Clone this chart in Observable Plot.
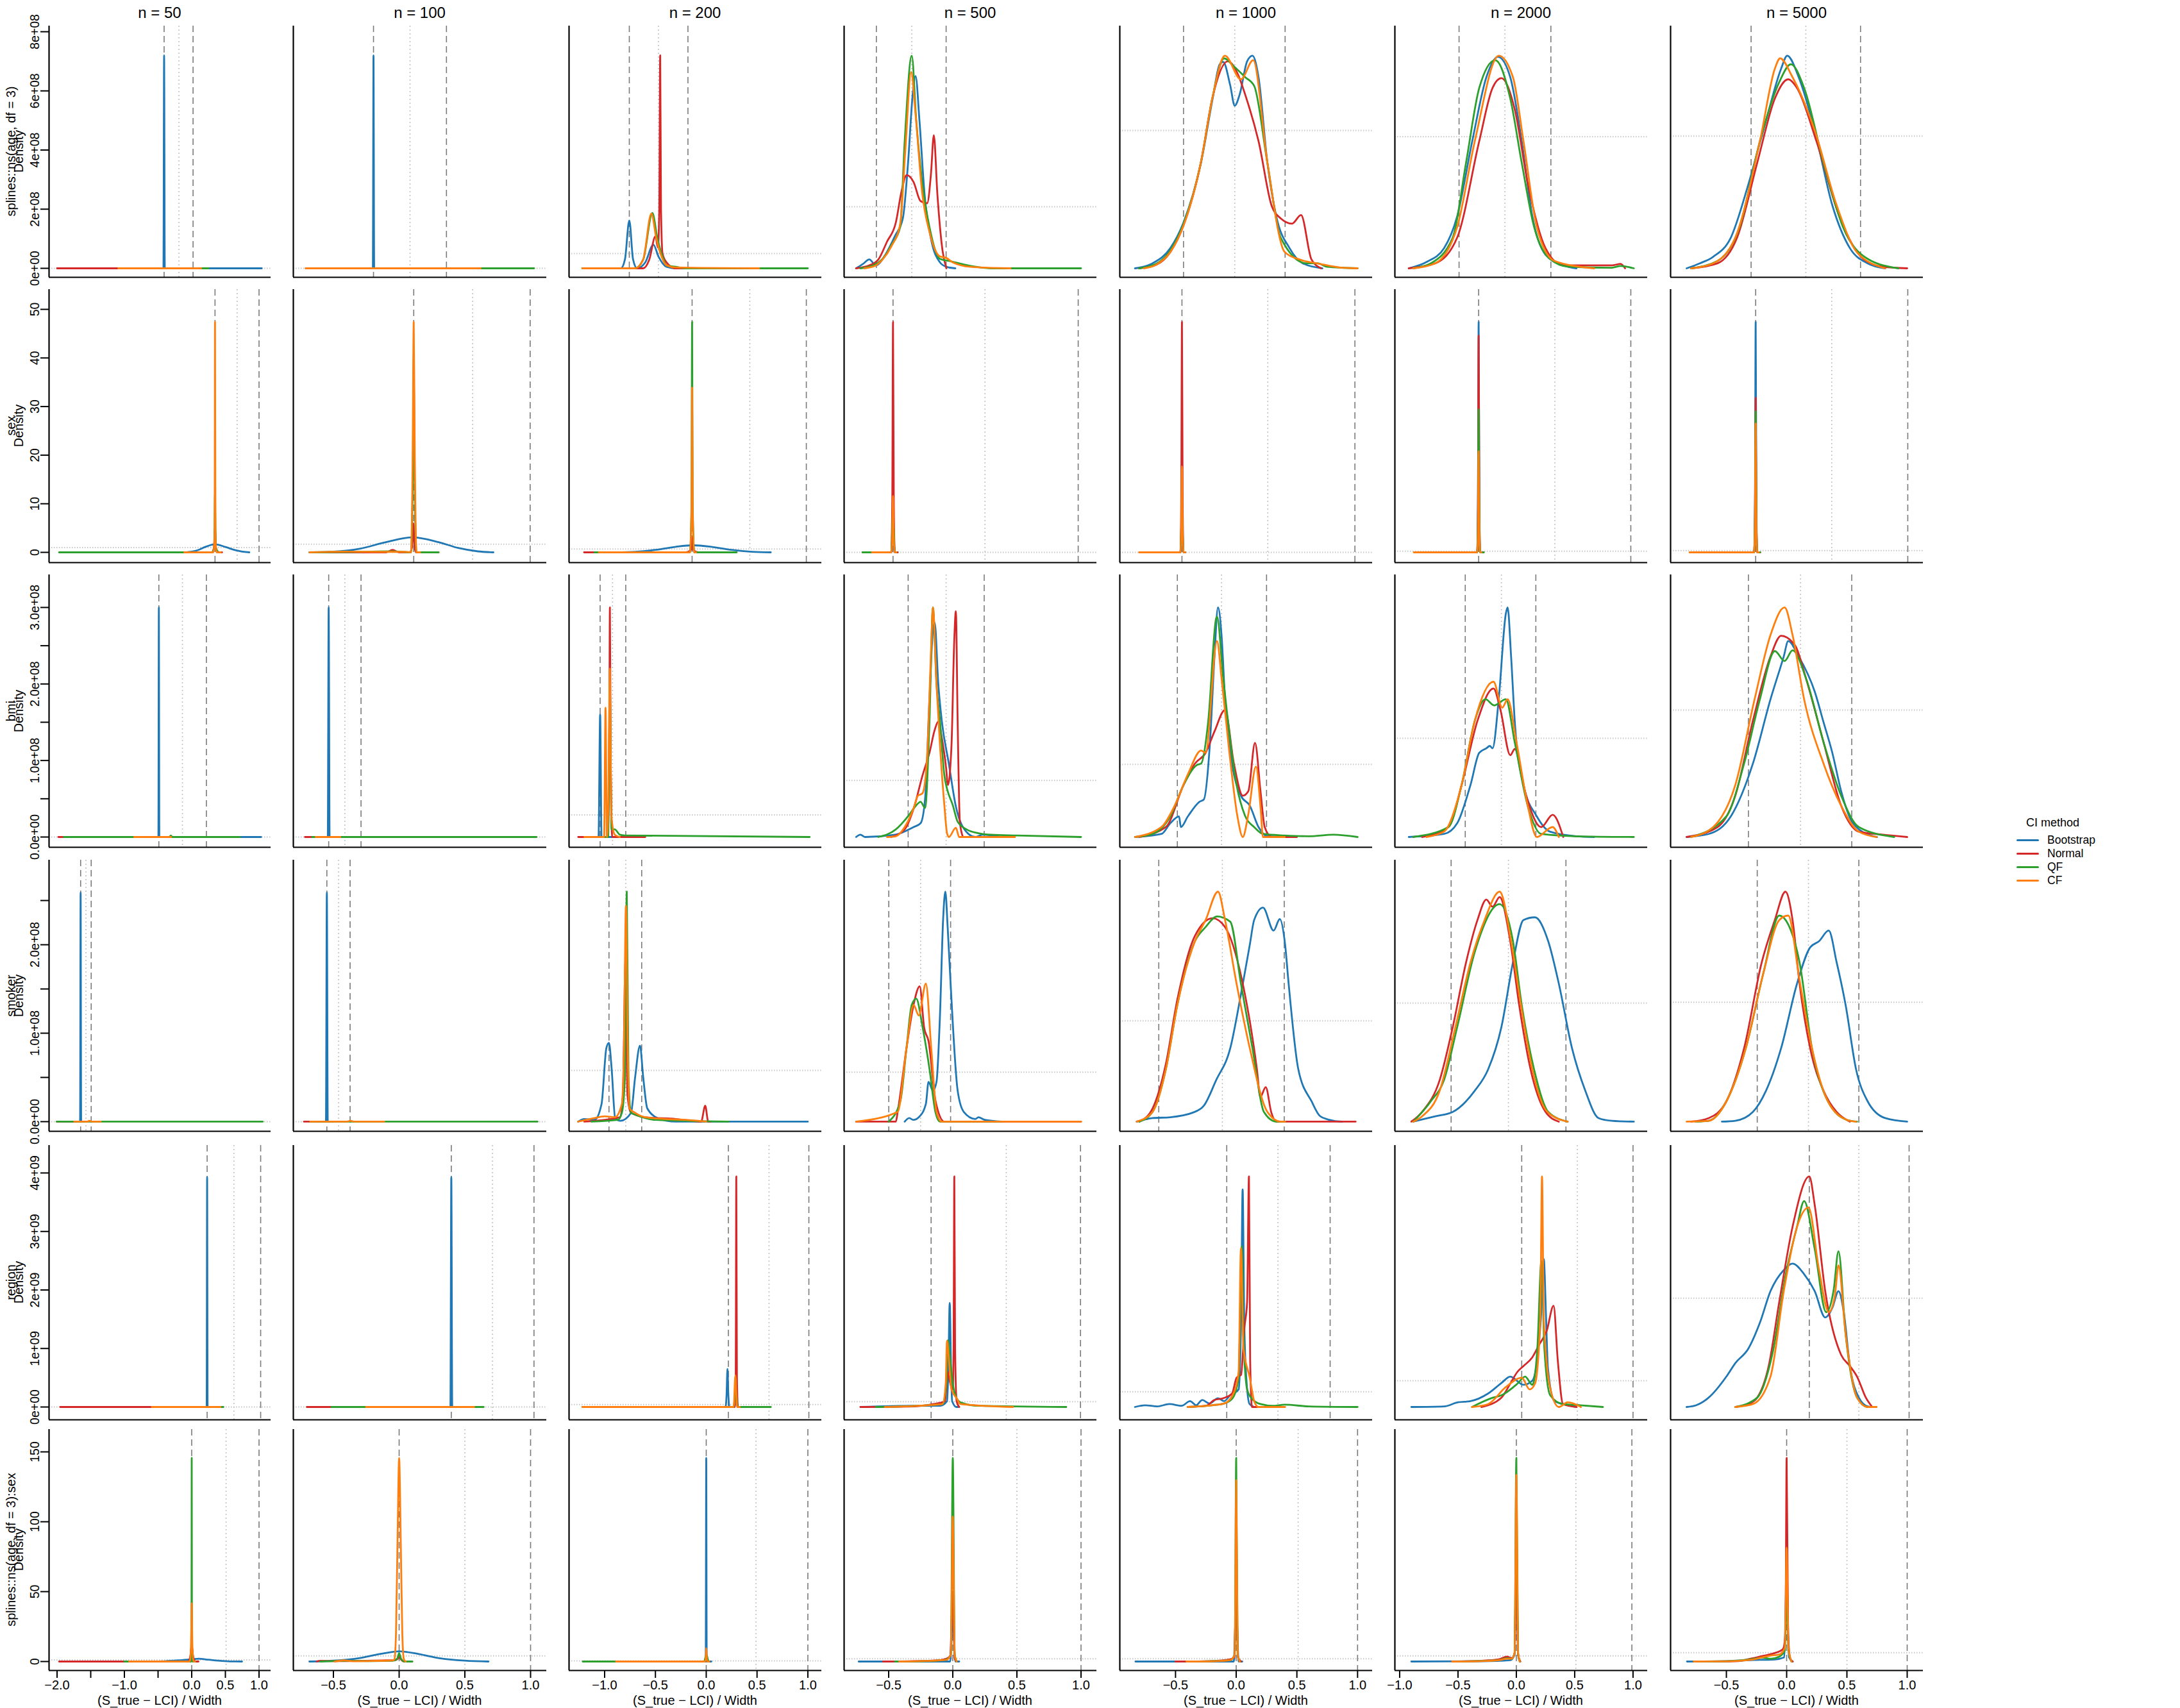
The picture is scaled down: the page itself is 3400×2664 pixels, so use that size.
<!DOCTYPE html>
<html><head><meta charset="utf-8">
<script src="https://cdn.jsdelivr.net/npm/d3@7"></script>
<script src="https://cdn.jsdelivr.net/npm/@observablehq/plot@0.6"></script>
<style>
body{margin:0;background:#fff;}
#wrap{position:relative;width:3400px;height:2664px;font-family:"Liberation Sans",Arial,sans-serif;color:#000;overflow:hidden;}
.t{position:absolute;white-space:nowrap;}
</style></head><body><div id="wrap"></div>
<script>
// ---------------- data ----------------
const methods = ["Bootstrap","Normal","QF","CF"];
const methodColors = ["#1f77b4","#d62728","#2ca02c","#ff7f0e"];
const sampleSizes = ["n = 50","n = 100","n = 200","n = 500","n = 1000","n = 2000","n = 5000"];
const termLabels = ["splines::ns(age, df = 3)","sex","bmi","smoker","region","splines::ns(age, df = 3):sex"];
const xLabel = "(S_true \u2212 LCI) / Width";

// x ticks per column (bottom row)
const xTicks = [[-2,-1.5,-1,-0.5,0,0.5,1],[-0.5,0,0.5,1],[-1,-0.5,0,0.5,1],[-0.5,0,0.5,1],[-0.5,0,0.5,1],[-1,-0.5,0,0.5,1],[-0.5,0,0.5,1]];
const xTickLabels = [["\u22122.0","","\u22121.0","","0.0","0.5","1.0"],["\u22120.5","0.0","0.5","1.0"],["\u22121.0","\u22120.5","0.0","0.5","1.0"],["\u22120.5","0.0","0.5","1.0"],["\u22120.5","0.0","0.5","1.0"],["\u22121.0","\u22120.5","0.0","0.5","1.0"],["\u22120.5","0.0","0.5","1.0"]];
const xDomains = [[-2.119,1.176],[-0.805,1.122],[-1.350,1.136],[-0.8475,1.1225],[-0.959,1.1225],[-1.041,1.124],[-0.963,1.133]];

// y ticks per row (values in row units: e8, 1, e8, e8, e9, 1)
const ageTicks = [0,2,4,6,8];            const ageTickLabels = ["0e+00","2e+08","4e+08","6e+08","8e+08"];
const sexTicks = [0,10,20,30,40,50];     const sexTickLabels = ["0","10","20","30","40","50"];
const bmiTicks = [0,0.5,1,1.5,2,2.5,3];  const bmiTickLabels = ["0.0e+00","","1.0e+08","","2.0e+08","","3.0e+08"];
const smokerTicks = [0,0.5,1,1.5,2,2.5]; const smokerTickLabels = ["0.0e+00","","1.0e+08","","2.0e+08",""];
const regionTicks = [0,1,2,3,4];         const regionTickLabels = ["0e+00","1e+09","2e+09","3e+09","4e+09"];
const agesexTicks = [0,50,100,150];      const agesexTickLabels = ["0","50","100","150"];
const yDomains = [[-0.3035,8.195],[-2.11,54.09],[-0.134,3.427],[-0.109,2.957],[-0.219,4.471],[-6.42,166.06]];

// ---- row 1: splines::ns(age, df = 3)  (density in 1e8) ----
const age_Bootstrap = [
 [[-0.9,0],[-0.42,0],[-0.41,7.2],[-0.40,0],[1.04,0]],
 [[-0.5,0],[-0.2,0],[-0.195,7.2],[-0.19,0],[0.8,0]],
 [[-1.09,0],[-0.84,0],[-0.80,0.3],[-0.757,1.62],[-0.72,0.3],[-0.68,0],[-0.6,0.2],[-0.52,0.8],[-0.47,0.4],[-0.39,0.05],[-0.3,0],[0.2,0]],
 [[-0.754,0],[-0.70,0.15],[-0.651,0.3],[-0.6,0.1],[-0.52,0.5],[-0.45,1.1],[-0.389,1.7],[-0.35,3.5],[-0.31,6.0],[-0.29,6.5],[-0.26,5.0],[-0.22,2.5],[-0.17,1.0],[-0.1,0.2],[-0.05,0.05],[0.02,0]],
 [[-0.834,0],[-0.689,0.17],[-0.543,0.68],[-0.434,1.55],[-0.29,3.57],[-0.194,5.74],[-0.136,6.9],[-0.107,6.98],[-0.05,6.2],[-0.012,5.5],[0.03,5.9],[0.09,7.0],[0.134,7.19],[0.184,6.46],[0.257,3.57],[0.33,1.76],[0.44,0.68],[0.548,0.17],[0.71,0]],
 [[-0.922,0],[-0.771,0.21],[-0.62,0.68],[-0.507,1.76],[-0.378,4.3],[-0.257,6.46],[-0.158,7.15],[-0.052,6.46],[0.046,4.3],[0.137,1.76],[0.25,0.46],[0.402,0.1],[0.515,0]],
 [[-0.83,0],[-0.72,0.17],[-0.61,0.39],[-0.463,1.04],[-0.317,2.85],[-0.171,5.0],[-0.046,6.75],[0.005,7.19],[0.1,6.46],[0.233,4.66],[0.379,2.13],[0.525,0.68],[0.672,0.17],[0.818,0]]
];
const age_Normal = [
 [[-2.0,0],[0.0,0]],
 [[-0.71,0],[0.5,0]],
 [[-1.09,0],[-0.62,0],[-0.56,0.3],[-0.50,1.08],[-0.475,0.7],[-0.462,2.0],[-0.453,7.2],[-0.445,2.0],[-0.43,0.5],[-0.39,0.2],[-0.3,0],[-0.17,0]],
 [[-0.754,0],[-0.65,0.1],[-0.58,0.3],[-0.513,0.9],[-0.444,1.55],[-0.40,2.6],[-0.36,3.15],[-0.306,2.92],[-0.251,2.27],[-0.2,2.2],[-0.17,3.2],[-0.148,4.5],[-0.12,2.5],[-0.08,0.6],[-0.05,0]],
 [[-0.8,0],[-0.66,0.12],[-0.543,0.55],[-0.434,1.45],[-0.29,3.6],[-0.194,5.8],[-0.07,7.0],[0.112,5.38],[0.184,4.3],[0.293,2.1],[0.366,1.69],[0.46,1.51],[0.534,1.8],[0.62,0.3],[0.7,0]],
 [[-0.922,0],[-0.695,0.17],[-0.507,1.04],[-0.318,4.3],[-0.204,6.1],[-0.128,6.43],[-0.014,5.38],[0.099,2.85],[0.25,0.68],[0.402,0.1],[0.818,0.1],[0.894,0.15],[0.932,0]],
 [[-0.793,0],[-0.573,0.17],[-0.411,1.04],[-0.244,3.57],[-0.098,5.74],[0.013,6.39],[0.086,6.1],[0.247,4.3],[0.437,1.76],[0.635,0.32],[0.8,0.05],[1.0,0]]
];
const age_QF = [
 [[-1.0,0],[0.25,0]],
 [[-0.6,0],[1.026,0]],
 [[-1.22,0],[-0.7,0],[-0.62,0.3],[-0.53,1.87],[-0.48,1.0],[-0.43,0.4],[-0.39,0.1],[-0.3,0.05],[-0.2,0],[1.0,0]],
 [[-0.72,0],[-0.62,0.1],[-0.547,0.32],[-0.478,0.79],[-0.41,1.4],[-0.375,4.3],[-0.32,7.19],[-0.285,5.0],[-0.237,2.85],[-0.182,1.4],[-0.1,0.32],[-0.03,0.25],[0.14,0.08],[0.3,0],[1.0,0]],
 [[-0.8,0],[-0.66,0.15],[-0.543,0.6],[-0.434,1.5],[-0.29,3.6],[-0.194,5.8],[-0.1,7.1],[-0.019,6.83],[0.075,6.46],[0.148,6.17],[0.257,3.57],[0.366,1.04],[0.58,0.17],[0.67,0.17],[0.75,0.05],[1.0,0]],
 [[-0.884,0],[-0.733,0.17],[-0.545,1.04],[-0.431,3.57],[-0.318,6.1],[-0.181,7.04],[-0.052,5.74],[0.046,3.57],[0.152,1.4],[0.288,0.32],[0.44,0.06],[0.818,0.02],[0.894,0.08],[1.007,0]],
 [[-0.793,0],[-0.573,0.25],[-0.39,1.4],[-0.222,4.3],[-0.061,6.3],[0.035,6.9],[0.145,6.1],[0.306,3.57],[0.467,1.4],[0.672,0.32],[0.928,0]]
];
const age_CF = [
 [[-1.09,0],[0.14,0]],
 [[-0.71,0],[0.62,0]],
 [[-1.22,0],[-0.7,0],[-0.62,0.3],[-0.54,1.85],[-0.49,1.0],[-0.44,0.4],[-0.39,0.1],[-0.3,0.03],[0.52,0]],
 [[-0.69,0],[-0.6,0.1],[-0.547,0.3],[-0.478,0.75],[-0.41,1.5],[-0.37,4.0],[-0.325,6.64],[-0.29,5.2],[-0.24,2.6],[-0.18,1.2],[-0.1,0.4],[-0.05,0.35],[0.0,0.2],[0.14,0.05],[0.45,0]],
 [[-0.76,0],[-0.66,0.12],[-0.543,0.55],[-0.434,1.45],[-0.29,3.6],[-0.194,5.8],[-0.093,7.19],[0.039,6.39],[0.14,7.04],[0.257,3.57],[0.4,0.55],[0.52,0.3],[0.69,0.15],[0.85,0.03],[1.0,0]],
 [[-0.884,0],[-0.695,0.17],[-0.507,1.4],[-0.356,4.3],[-0.15,7.19],[-0.029,6.46],[0.061,4.3],[0.175,1.4],[0.326,0.25],[0.667,0]],
 [[-0.793,0],[-0.61,0.17],[-0.426,1.04],[-0.222,4.3],[-0.098,6.75],[-0.054,7.1],[0.049,6.46],[0.233,4.66],[0.415,2.13],[0.584,0.54],[0.818,0]]
];
const age_refLines = [[-0.41,-0.19,0.02],[-0.195,0.083,0.36],[-0.757,-0.47,-0.18],[-0.596,-0.32,-0.052],[-0.434,-0.012,0.403],[-0.491,-0.098,0.296],[-0.295,0.159,0.613]];
const age_uniform = [0,0,0.5,2.08,4.66,4.45,4.47];

// ---- row 2: sex ----
const sex_Bootstrap = [
 [[-0.11,0],[0.0,0.15],[0.1,0.5],[0.2,1.1],[0.346,1.67],[0.5,1.1],[0.65,0.45],[0.75,0.15],[0.856,0]],
 [[-0.682,0],[-0.5,0.15],[-0.3,0.75],[-0.1,2.1],[0.101,3.08],[0.3,2.1],[0.45,0.9],[0.6,0.2],[0.717,0]],
 [[-0.888,0],[-0.7,0.12],[-0.5,0.5],[-0.3,1.15],[-0.13,1.45],[0.05,1.15],[0.25,0.5],[0.45,0.12],[0.635,0]],
 [[-0.5,0],[-0.48,0],[-0.466,5],[-0.452,0],[-0.43,0]],
 [[-0.6,0],[-0.46,0],[-0.447,5],[-0.434,0],[-0.42,0]],
 [[-0.7,0],[-0.336,0],[-0.329,10],[-0.323,47.4],[-0.317,10],[-0.31,0],[-0.28,0]],
 [[-0.7,0],[-0.27,0],[-0.263,10],[-0.257,47.4],[-0.251,10],[-0.244,0],[-0.22,0]]
];
const sex_Normal = [
 [[-1.5,0],[0.3,0],[0.33,1],[0.346,5],[0.36,1],[0.39,0],[0.45,0]],
 [[-0.6,0],[-0.1,0],[-0.05,0.5],[0.0,0],[0.08,0],[0.098,1],[0.108,6],[0.118,1],[0.13,0],[0.3,0]],
 [[-1.202,0],[-0.2,0],[-0.15,0.5],[-0.139,3],[-0.128,0.5],[-0.08,0],[0.2,0]],
 [[-0.6,0],[-0.48,0],[-0.472,10],[-0.466,47.4],[-0.46,10],[-0.452,0],[-0.43,0]],
 [[-0.7,0],[-0.46,0],[-0.453,10],[-0.447,47.4],[-0.441,10],[-0.434,0],[-0.42,0]],
 [[-0.7,0],[-0.336,0],[-0.329,9],[-0.323,44.6],[-0.317,9],[-0.31,0],[-0.28,0]],
 [[-0.7,0],[-0.27,0],[-0.263,7],[-0.257,31.8],[-0.251,7],[-0.244,0],[-0.22,0]]
];
const sex_QF = [
 [[-1.97,0],[0.3,0],[0.335,1],[0.346,12],[0.357,1],[0.40,0]],
 [[-0.682,0],[-0.3,0.1],[-0.05,0.2],[0.09,0],[0.104,15],[0.111,40],[0.118,15],[0.132,0],[0.3,0]],
 [[-1.1,0],[-0.16,0],[-0.145,10],[-0.139,47.4],[-0.133,10],[-0.118,0],[0.3,0]],
 [[-0.705,0],[-0.48,0],[-0.466,8],[-0.452,0],[-0.44,0]],
 [[-0.7,0],[-0.46,0],[-0.447,8],[-0.434,0],[-0.42,0]],
 [[-0.8,0],[-0.336,0],[-0.329,6],[-0.323,29.4],[-0.317,6],[-0.31,0],[-0.28,0]],
 [[-0.75,0],[-0.27,0],[-0.263,6],[-0.257,29.0],[-0.251,6],[-0.244,0],[-0.22,0]]
];
const sex_CF = [
 [[-0.11,0],[0.32,0],[0.34,3],[0.346,47.4],[0.352,3],[0.37,0],[0.435,0]],
 [[-0.682,0],[-0.4,0.15],[-0.2,0.1],[0.045,0.1],[0.09,0],[0.103,20],[0.111,47.4],[0.119,20],[0.132,0],[0.16,0]],
 [[-1.057,0],[-0.16,0],[-0.145,8],[-0.139,33.9],[-0.133,8],[-0.118,0],[-0.1,0]],
 [[-0.63,0],[-0.48,0],[-0.472,3],[-0.466,11.6],[-0.46,3],[-0.452,0],[-0.44,0]],
 [[-0.8,0],[-0.46,0],[-0.453,4],[-0.447,17.7],[-0.441,4],[-0.434,0],[-0.42,0]],
 [[-0.879,0],[-0.336,0],[-0.329,4],[-0.323,20.8],[-0.317,4],[-0.31,0],[-0.3,0]],
 [[-0.806,0],[-0.27,0],[-0.263,5],[-0.257,26.5],[-0.251,5],[-0.244,0],[-0.23,0]]
];
const sex_refLines = [[0.346,0.674,1.0],[0.111,0.559,0.997],[-0.139,0.429,0.985],[-0.466,0.251,0.978],[-0.447,0.26,0.978],[-0.323,0.33,0.981],[-0.257,0.374,1.005]];
const sex_uniform = [1.0,1.67,0.7,0,0,0.22,0.35];

// ---- row 3: bmi (density in 1e8) ----
const bmi_Bootstrap = [
 [[-0.6,0],[-0.495,0],[-0.488,3.0],[-0.481,0],[1.03,0]],
 [[-0.6,0],[-0.543,0],[-0.536,3.0],[-0.529,0],[-0.3,0]],
 [[-1.15,0],[-1.06,0],[-1.044,1.6],[-1.03,0],[-0.9,0],[-0.8,0]],
 [[-0.754,0],[-0.72,0.03],[-0.685,0],[-0.45,0.03],[-0.306,0.13],[-0.251,0.18],[-0.216,0.5],[-0.182,1.8],[-0.155,2.7],[-0.141,2.8],[-0.113,2.0],[-0.086,1.52],[-0.031,0.96],[0.024,0.4],[0.079,0.13],[0.176,0],[0.231,0.03],[0.382,0]],
 [[-0.834,0],[-0.616,0.04],[-0.543,0.18],[-0.471,0.27],[-0.456,0.13],[-0.398,0.27],[-0.303,0.46],[-0.267,0.49],[-0.216,1.24],[-0.179,2.36],[-0.15,3.0],[-0.121,2.64],[-0.092,1.8],[-0.034,0.96],[0.039,0.54],[0.112,0.41],[0.184,0.13],[0.257,0.01],[0.439,0]],
 [[-0.922,0],[-0.62,0.04],[-0.507,0.18],[-0.393,0.68],[-0.318,1.1],[-0.257,1.16],[-0.227,1.19],[-0.204,1.16],[-0.151,1.8],[-0.09,2.92],[-0.075,3.0],[-0.045,2.36],[-0.014,1.52],[0.061,0.68],[0.175,0.27],[0.288,0.07],[0.515,0.01],[0.667,0]],
 [[-0.83,0],[-0.647,0.04],[-0.463,0.27],[-0.28,0.96],[-0.134,1.8],[-0.024,2.36],[0.013,2.56],[0.1,2.36],[0.233,1.9],[0.306,1.5],[0.379,1.1],[0.452,0.6],[0.525,0.25],[0.6,0.1],[0.75,0]]
];
const bmi_Normal = [
 [[-1.98,0],[-1.0,0]],
 [[-0.716,0],[-0.5,0]],
 [[-1.26,0],[-0.97,0],[-0.955,1.0],[-0.948,3.0],[-0.94,1.0],[-0.925,0],[-0.6,0]],
 [[-0.48,0],[-0.375,0.1],[-0.3,0.4],[-0.237,0.8],[-0.182,1.1],[-0.141,1.4],[-0.113,1.51],[-0.086,1.3],[-0.052,0.9],[-0.038,0.68],[-0.01,1.2],[0.01,2.5],[0.024,2.95],[0.038,1.5],[0.055,0.2],[0.079,0]],
 [[-0.8,0],[-0.58,0.13],[-0.434,0.68],[-0.34,0.96],[-0.252,1.1],[-0.179,1.38],[-0.092,1.66],[-0.019,0.96],[0.054,0.54],[0.1,0.6],[0.155,1.23],[0.2,0.6],[0.235,0.13],[0.293,0],[0.5,0]],
 [[-0.808,0],[-0.582,0.13],[-0.469,0.68],[-0.333,1.52],[-0.196,1.94],[-0.136,1.66],[-0.052,1.07],[-0.014,1.15],[0.084,0.54],[0.213,0.13],[0.311,0.29],[0.402,0]],
 [[-0.83,0],[-0.573,0.13],[-0.426,0.54],[-0.28,1.52],[-0.134,2.36],[-0.046,2.63],[0.071,2.5],[0.159,2.08],[0.306,1.24],[0.452,0.41],[0.599,0.07],[0.8,0.03],[1.0,0]]
];
const bmi_QF = [
 [[-1.9,0],[-0.33,0],[-0.31,0.02],[-0.29,0],[0.715,0]],
 [[-0.662,0],[1.045,0]],
 [[-1.13,0],[-0.965,0],[-0.948,2.0],[-0.932,0.1],[-0.9,0.1],[-0.85,0.03],[-0.8,0.02],[1.018,0]],
 [[-0.581,0],[-0.444,0.1],[-0.34,0.29],[-0.292,0.4],[-0.251,0.46],[-0.216,0.38],[-0.182,1.5],[-0.155,3.0],[-0.127,2.0],[-0.1,1.52],[-0.065,0.8],[0.003,0.4],[0.038,0.2],[0.107,0.1],[0.2,0.05],[0.3,0.03],[0.5,0.02],[1.0,0]],
 [[-0.834,0],[-0.689,0.04],[-0.543,0.27],[-0.434,0.68],[-0.325,0.94],[-0.289,0.96],[-0.23,1.52],[-0.165,2.86],[-0.158,2.88],[-0.107,2.08],[0.003,0.68],[0.075,0.27],[0.148,0.13],[0.221,0.04],[0.4,0.02],[0.6,0.01],[0.8,0.03],[1.0,0]],
 [[-0.884,0],[-0.582,0.13],[-0.469,0.68],[-0.356,1.52],[-0.265,1.8],[-0.189,1.72],[-0.09,1.8],[-0.014,1.24],[0.099,0.4],[0.213,0.04],[0.5,0.01],[1.007,0]],
 [[-0.793,0],[-0.5,0.27],[-0.353,0.96],[-0.222,1.8],[-0.098,2.43],[-0.017,2.3],[0.049,2.44],[0.159,2.08],[0.306,1.24],[0.452,0.54],[0.599,0.13],[0.892,0]]
];
const bmi_CF = [
 [[-0.854,0],[-0.305,0]],
 [[-0.635,0],[-0.448,0]],
 [[-1.2,0],[-1.005,0],[-0.991,1.69],[-0.977,0],[-0.965,0.3],[-0.948,2.2],[-0.935,0.3],[-0.9,0.03],[-0.85,0]],
 [[-0.513,0],[-0.444,0.01],[-0.375,0.13],[-0.3,0.4],[-0.272,0.54],[-0.237,0.57],[-0.203,0.96],[-0.168,2.5],[-0.155,3.0],[-0.127,2.0],[-0.1,1.2],[-0.065,0.4],[-0.045,0.05],[-0.031,0],[0.024,0.12],[0.05,0],[0.485,0]],
 [[-0.834,0],[-0.616,0.13],[-0.507,0.41],[-0.398,0.82],[-0.289,1.13],[-0.252,1.1],[-0.158,2.56],[-0.121,2.08],[-0.056,1.1],[0.01,0.27],[0.054,0],[0.1,0.3],[0.163,0.92],[0.2,0.4],[0.221,0],[0.4,0]],
 [[-0.771,0],[-0.62,0.07],[-0.469,0.68],[-0.356,1.52],[-0.196,2.03],[-0.121,1.69],[-0.075,1.8],[0.001,1.24],[0.099,0.4],[0.175,0],[0.311,0.13],[0.364,0]],
 [[-0.793,0],[-0.61,0.13],[-0.426,0.68],[-0.266,1.8],[-0.134,2.64],[-0.017,3.0],[0.049,2.64],[0.145,1.8],[0.306,0.96],[0.452,0.41],[0.599,0.07],[0.745,0]]
];
const bmi_refLines = [[-0.488,-0.138,0.218],[-0.536,-0.413,-0.29],[-1.044,-0.922,-0.792],[-0.348,-0.052,0.245],[-0.485,-0.121,0.25],[-0.438,-0.128,0.167],[-0.317,0.115,0.54]];
const bmi_uniform = [0,0,0.29,0.74,0.95,1.29,1.66];

// ---- row 4: smoker (density in 1e8) ----
const smoker_Bootstrap = [
 [[-1.7,0],[-1.658,0],[-1.65,2.59],[-1.642,0],[-1.6,0]],
 [[-0.6,0],[-0.557,0],[-0.55,2.59],[-0.543,0],[-0.5,0]],
 [[-1.261,0],[-1.2,0.03],[-1.1,0.02],[-1.03,0.2],[-0.983,0.83],[-0.957,0.89],[-0.931,0.6],[-0.896,0.04],[-0.844,0.01],[-0.74,0.1],[-0.7,0.5],[-0.652,0.86],[-0.62,0.5],[-0.58,0.15],[-0.478,0.04],[-0.3,0],[1.0,0]],
 [[-0.375,0],[-0.34,0.04],[-0.306,0.02],[-0.265,0.05],[-0.21,0.2],[-0.189,0.45],[-0.155,0.35],[-0.127,0.45],[-0.1,1.2],[-0.075,2.3],[-0.058,2.6],[-0.04,2.2],[-0.017,1.56],[0.038,0.35],[0.086,0.11],[0.176,0.03],[0.2,0.05],[0.25,0.02],[0.382,0]],
 [[-0.82,0],[-0.689,0.04],[-0.543,0.05],[-0.361,0.1],[-0.267,0.18],[-0.165,0.47],[-0.049,0.83],[0.039,1.44],[0.112,2.0],[0.148,2.28],[0.221,2.42],[0.308,2.16],[0.359,2.29],[0.403,2.0],[0.432,1.56],[0.512,0.59],[0.621,0.23],[0.693,0.06],[0.802,0.01],[0.875,0]],
 [[-0.884,0],[-0.695,0.06],[-0.545,0.11],[-0.356,0.35],[-0.242,0.59],[-0.128,1.07],[-0.029,1.8],[0.061,2.28],[0.159,2.31],[0.273,2.04],[0.364,1.56],[0.477,0.83],[0.591,0.35],[0.705,0.04],[0.818,0.01],[1.007,0]],
 [[-0.537,0],[-0.426,0.01],[-0.28,0.11],[-0.171,0.35],[-0.046,0.83],[0.086,1.56],[0.195,1.97],[0.269,2.04],[0.349,2.16],[0.415,1.8],[0.489,1.32],[0.576,0.59],[0.672,0.23],[0.818,0.04],[1.0,0]]
];
const smoker_Normal = [
 [[-2.0,0],[-1.7,0]],
 [[-0.724,0],[-0.6,0]],
 [[-1.2,0],[-0.85,0.05],[-0.82,0.3],[-0.795,1.8],[-0.775,0.3],[-0.74,0.1],[-0.6,0.05],[-0.3,0.03],[-0.05,0],[-0.01,0.18],[0.02,0],[0.044,0]],
 [[-0.754,0],[-0.444,0],[-0.43,0.11],[-0.361,0.83],[-0.306,1.32],[-0.258,1.53],[-0.223,1.06],[-0.189,0.91],[-0.134,0.23],[-0.065,0],[1.0,0]],
 [[-0.798,0],[-0.689,0.15],[-0.58,0.65],[-0.485,1.38],[-0.34,2.1],[-0.194,2.3],[-0.092,2.2],[0.054,1.56],[0.17,0.6],[0.199,0.28],[0.243,0.39],[0.29,0.1],[0.33,0],[0.984,0]],
 [[-0.9,0],[-0.808,0.11],[-0.657,0.47],[-0.545,1.07],[-0.431,1.8],[-0.333,2.28],[-0.257,2.51],[-0.204,2.43],[-0.143,2.54],[-0.052,2.04],[0.024,1.32],[0.122,0.59],[0.25,0.11],[0.364,0]],
 [[-0.793,0],[-0.647,0.04],[-0.5,0.23],[-0.353,0.83],[-0.207,1.8],[-0.098,2.28],[-0.01,2.6],[0.049,2.28],[0.107,1.56],[0.195,0.83],[0.306,0.35],[0.415,0.11],[0.525,0]]
];
const smoker_QF = [
 [[-2.006,0],[1.055,0]],
 [[-0.676,0],[1.053,0]],
 [[-1.13,0],[-0.87,0.02],[-0.83,0.1],[-0.8,0.5],[-0.782,2.6],[-0.765,0.5],[-0.74,0.1],[-0.7,0.08],[-0.6,0.04],[-0.5,0.02],[0.22,0]],
 [[-0.5,0],[-0.409,0.23],[-0.361,0.83],[-0.32,1.32],[-0.285,1.39],[-0.237,1.08],[-0.182,0.6],[-0.134,0.1],[-0.1,0],[0.382,0]],
 [[-0.798,0],[-0.689,0.11],[-0.58,0.59],[-0.485,1.32],[-0.34,2.04],[-0.252,2.2],[-0.158,2.32],[-0.049,2.26],[0.039,1.56],[0.134,0.83],[0.228,0.11],[0.33,0],[0.403,0]],
 [[-0.884,0],[-0.733,0.23],[-0.62,0.47],[-0.507,1.07],[-0.356,1.92],[-0.143,2.46],[-0.029,2.04],[0.046,1.32],[0.152,0.59],[0.273,0.11],[0.44,0]],
 [[-0.757,0],[-0.647,0.01],[-0.5,0.23],[-0.339,0.83],[-0.193,1.68],[-0.061,2.33],[0.013,2.23],[0.107,1.8],[0.21,0.83],[0.342,0.23],[0.5,0.02],[0.584,0]]
];
const smoker_CF = [
 [[-1.744,0],[-1.55,0],[-1.52,0.01],[-1.48,0],[-1.351,0]],
 [[-0.676,0],[-0.4,0],[-0.37,0.01],[-0.34,0],[-0.113,0]],
 [[-1.261,0],[-1.1,0.04],[-1.0,0.06],[-0.9,0.05],[-0.83,0.2],[-0.81,0.8],[-0.79,2.44],[-0.772,0.8],[-0.755,0.15],[-0.7,0.1],[-0.6,0.05],[-0.4,0.03],[-0.2,0.02],[0.0,0]],
 [[-0.754,0],[-0.43,0.11],[-0.361,0.83],[-0.306,1.32],[-0.265,1.2],[-0.21,1.56],[-0.168,0.83],[-0.127,0.11],[-0.086,0],[1.0,0]],
 [[-0.82,0],[-0.689,0.11],[-0.58,0.59],[-0.485,1.32],[-0.34,2.04],[-0.252,2.28],[-0.15,2.6],[-0.092,2.28],[0.003,1.56],[0.112,0.83],[0.257,0.11],[0.366,0],[0.403,0]],
 [[-0.884,0],[-0.808,0.06],[-0.657,0.35],[-0.522,1.07],[-0.393,1.8],[-0.272,2.28],[-0.143,2.6],[-0.045,2.04],[0.039,1.32],[0.137,0.59],[0.265,0.11],[0.44,0]],
 [[-0.83,0],[-0.647,0.01],[-0.5,0.23],[-0.339,0.83],[-0.193,1.68],[-0.061,2.28],[0.013,2.33],[0.107,1.6],[0.21,0.83],[0.342,0.23],[0.5,0.02],[0.576,0]]
];
const smoker_refLines = [[-1.65,-1.571,-1.493],[-0.55,-0.461,-0.373],[-0.957,-0.792,-0.635],[-0.499,-0.251,-0.017],[-0.638,-0.114,0.396],[-0.559,-0.068,0.425],[-0.244,0.181,0.599]];
const smoker_uniform = [0,0,0.58,0.56,1.14,1.34,1.35];

// ---- row 5: region (density in 1e9) ----
const region_Bootstrap = [
 [[0.1,0],[0.222,0],[0.229,3.93],[0.236,0],[0.3,0]],
 [[0.3,0],[0.39,0],[0.397,3.93],[0.404,0],[0.5,0]],
 [[-1.0,0],[0.19,0],[0.2,0.2],[0.209,0.65],[0.218,0.2],[0.228,0],[0.26,0]],
 [[-0.72,0],[-0.3,0.02],[-0.1,0.02],[-0.045,0.1],[-0.035,0.6],[-0.024,1.78],[-0.013,0.6],[-0.005,0.1],[0.03,0],[0.05,0]],
 [[-0.834,0],[-0.75,0.03],[-0.65,0.01],[-0.55,0.05],[-0.45,0.02],[-0.38,0.1],[-0.33,0.03],[-0.28,0.12],[-0.22,0.06],[-0.15,0.15],[-0.1,0.1],[-0.05,0.2],[0.02,0.3],[0.04,1.5],[0.053,3.72],[0.066,1.5],[0.083,0.5],[0.11,0.05],[0.148,0]],
 [[-0.9,0],[-0.62,0.01],[-0.5,0.08],[-0.393,0.1],[-0.242,0.23],[-0.128,0.41],[-0.052,0.52],[0.061,0.38],[0.137,0.45],[0.21,1.5],[0.235,2.53],[0.255,1.5],[0.27,0.68],[0.326,0.1],[0.402,0.05],[0.515,0]],
 [[-0.83,0],[-0.75,0.03],[-0.647,0.16],[-0.5,0.52],[-0.426,0.75],[-0.317,1.0],[-0.222,1.44],[-0.134,1.98],[-0.024,2.34],[0.049,2.45],[0.145,2.27],[0.233,1.98],[0.32,1.53],[0.38,1.7],[0.43,1.98],[0.474,1.62],[0.525,0.7],[0.599,0.16],[0.672,0.01],[0.71,0]]
];
const region_Normal = [
 [[-1.953,0],[-0.593,0]],
 [[-0.702,0],[-0.515,0]],
 [[-1.218,0],[0.28,0],[0.29,0.5],[0.296,3.94],[0.302,0.5],[0.312,0],[0.33,0]],
 [[-0.72,0],[-0.3,0.01],[-0.15,0.05],[-0.06,0.1],[-0.04,0.6],[-0.03,0.5],[0.0,0.3],[0.006,1.0],[0.012,3.94],[0.018,1.0],[0.03,0.1],[0.05,0]],
 [[-0.4,0],[-0.25,0.02],[-0.179,0.12],[-0.107,0.15],[-0.034,0.23],[0.003,0.5],[0.04,0.55],[0.068,1.36],[0.09,1.8],[0.105,3.94],[0.115,0.8],[0.13,0],[0.2,0]],
 [[-0.3,0],[-0.128,0.16],[-0.052,0.4],[0.009,0.6],[0.061,0.7],[0.137,0.85],[0.197,1.07],[0.26,1.3],[0.319,1.73],[0.355,0.8],[0.4,0.05],[0.515,0]],
 [[-0.426,0],[-0.317,0.05],[-0.244,0.16],[-0.149,0.7],[-0.061,1.8],[0.049,3.08],[0.188,3.94],[0.233,3.45],[0.32,1.98],[0.452,0.89],[0.525,0.7],[0.584,0.52],[0.657,0.16],[0.71,0]]
];
const region_QF = [
 [[-0.5,0],[0.47,0]],
 [[-0.515,0],[0.643,0]],
 [[-1.0,0],[0.27,0],[0.29,0.3],[0.31,0],[0.636,0]],
 [[-0.6,0],[-0.2,0.03],[-0.08,0.05],[-0.05,0.4],[-0.038,1.14],[-0.02,0.8],[0.0,0.4],[0.03,0.15],[0.07,0.07],[0.2,0.02],[0.885,0]],
 [[-0.4,0],[-0.2,0.03],[-0.1,0.06],[-0.03,0.15],[0.02,0.5],[0.046,2.75],[0.06,1.2],[0.09,0.3],[0.126,0.15],[0.2,0.05],[0.3,0.02],[0.4,0.04],[0.6,0.01],[1.0,0]],
 [[-0.38,0],[-0.2,0.16],[-0.128,0.2],[0.01,0.4],[0.075,0.52],[0.137,0.38],[0.18,1.0],[0.215,2.5],[0.24,1.0],[0.29,0.2],[0.4,0.05],[0.55,0.03],[0.742,0]],
 [[-0.426,0],[-0.244,0.16],[-0.12,0.89],[0.0,2.34],[0.086,3.08],[0.145,3.52],[0.233,2.7],[0.328,1.62],[0.39,2.0],[0.43,2.66],[0.489,1.25],[0.584,0.16],[0.672,0],[0.745,0]]
];
const region_CF = [
 [[-0.593,0],[0.428,0]],
 [[-0.252,0],[0.571,0]],
 [[-1.218,0],[0.27,0],[0.287,0.54],[0.304,0],[0.33,0]],
 [[-0.53,0],[-0.2,0.03],[-0.08,0.05],[-0.055,0.4],[-0.045,1.13],[-0.03,0.8],[-0.01,0.3],[0.03,0.15],[0.06,0.05],[0.47,0]],
 [[-0.4,0],[-0.2,0.03],[-0.1,0.06],[-0.03,0.2],[0.02,0.6],[0.039,2.72],[0.06,1.0],[0.112,0.5],[0.148,0.1],[0.184,0],[0.403,0]],
 [[-0.38,0],[-0.242,0.05],[-0.09,0.34],[0.046,0.5],[0.114,0.3],[0.16,0.4],[0.205,1.5],[0.22,3.94],[0.235,1.5],[0.288,0.34],[0.364,0],[0.44,0.08],[0.553,0]],
 [[-0.426,0],[-0.28,0.05],[-0.134,0.52],[-0.024,1.98],[0.086,3.08],[0.181,3.41],[0.269,2.34],[0.35,1.62],[0.4,1.9],[0.43,2.42],[0.489,1.25],[0.584,0.16],[0.672,0],[0.745,0]]
];
const region_refLines = [[0.229,0.627,1.024],[0.397,0.71,1.026],[0.218,0.618,1.01],[-0.169,0.417,0.996],[-0.078,0.344,0.774],[0.046,0.523,1.0],[0.188,0.599,1.016]];
const region_uniform = [0,0,0.04,0.09,0.26,0.45,1.86];

// ---- row 6: splines::ns(age, df = 3):sex ----
const agesex_Bootstrap = [
 [[-0.6,0],[-0.4,0.2],[-0.2,0.8],[0.0,1.6],[0.1,2.0],[0.25,1.3],[0.45,0.4],[0.6,0.05],[0.747,0]],
 [[-0.683,0],[-0.5,0.6],[-0.3,2.5],[-0.15,5.3],[0.003,7.3],[0.15,5.3],[0.3,2.5],[0.5,0.6],[0.68,0]],
 [[-0.5,0],[-0.005,0],[0.0,145.7],[0.005,0],[0.05,0]],
 [[-0.734,0],[-0.02,0],[0.0,30],[0.02,0],[0.05,0]],
 [[-0.83,0],[-0.02,0],[0.0,40],[0.02,0],[0.05,0]],
 [[-0.9,0],[-0.3,0.2],[-0.05,1.0],[-0.015,5],[0.0,80],[0.015,5],[0.03,0]],
 [[-0.827,0],[-0.5,0.3],[-0.3,1.0],[-0.1,1.5],[-0.02,3],[0.0,60],[0.02,3],[0.05,0]]
];
const agesex_Normal = [
 [[-1.97,0],[-0.05,0],[-0.02,4],[0.0,12],[0.02,4],[0.05,0],[0.1,0]],
 [[-0.627,0],[-0.6,0.5],[-0.5,0.3],[-0.3,0.5],[-0.1,0.8],[-0.03,1.0],[-0.01,2],[0.0,4],[0.01,2],[0.04,0],[0.1,0]],
 [[-0.5,0],[-0.02,0],[0.0,3],[0.02,0]],
 [[-0.543,0],[-0.2,0.5],[-0.1,1.0],[-0.05,2],[-0.02,4],[0.0,50],[0.015,2],[0.03,0]],
 [[-0.5,0],[-0.2,0.3],[-0.05,1.5],[-0.015,3],[0.0,60],[0.015,3],[0.04,0]],
 [[-0.55,0],[-0.3,0.5],[-0.15,1.5],[-0.08,3.5],[-0.04,2.5],[-0.015,6],[0.0,90],[0.015,5],[0.035,0]],
 [[-0.6,0],[-0.4,0.3],[-0.3,2.0],[-0.2,4.0],[-0.1,6.0],[-0.03,9.0],[-0.01,20],[0.0,145.7],[0.012,20],[0.03,2],[0.05,0]]
];
const agesex_QF = [
 [[-1.0,0],[-0.01,0],[-0.003,40],[0.0,145.7],[0.003,40],[0.01,0],[0.05,0]],
 [[-0.6,0],[-0.5,0.3],[-0.4,0.5],[-0.2,0.3],[-0.05,0.5],[-0.015,2],[0.0,6],[0.015,2],[0.04,0],[0.1,0]],
 [[-1.215,0],[-0.02,0],[0.0,5],[0.02,0]],
 [[-0.45,0],[-0.2,0.3],[-0.1,0.8],[-0.05,1.5],[-0.015,5],[0.0,145.7],[0.015,5],[0.03,0]],
 [[-0.41,0],[-0.2,0.3],[-0.05,1.0],[-0.012,5],[0.0,145.7],[0.012,5],[0.03,0]],
 [[-0.5,0],[-0.3,0.4],[-0.15,1.0],[-0.08,2.5],[-0.04,2.0],[-0.015,6],[0.0,145.7],[0.015,6],[0.03,0]],
 [[-0.77,0],[-0.5,0.2],[-0.3,1.5],[-0.2,2.8],[-0.13,2.0],[-0.06,3.5],[-0.015,8],[0.0,50],[0.015,8],[0.04,0]]
];
const agesex_CF = [
 [[-0.93,0],[-0.03,0],[-0.01,10],[0.0,41.7],[0.01,10],[0.03,0],[0.05,0]],
 [[-0.49,0],[-0.42,0.8],[-0.35,0.2],[-0.2,0.4],[-0.05,0.8],[-0.036,1.6],[-0.024,20],[-0.012,88],[0.0,145.7],[0.012,88],[0.024,20],[0.036,1.6],[0.05,0]],
 [[-0.888,0],[-0.01,0],[-0.004,4],[0.0,9.6],[0.004,4],[0.01,0],[0.03,0]],
 [[-0.418,0],[-0.2,0.4],[-0.1,0.9],[-0.05,1.2],[-0.015,5],[0.0,103.7],[0.015,5],[0.03,0]],
 [[-0.41,0],[-0.2,0.2],[-0.05,1.0],[-0.012,5],[0.0,129.7],[0.012,5],[0.03,0]],
 [[-0.55,0],[-0.3,0.3],[-0.15,1.0],[-0.08,2.0],[-0.04,2.0],[-0.015,6],[0.0,133.5],[0.015,6],[0.03,0]],
 [[-0.77,0],[-0.5,0.2],[-0.3,1.2],[-0.2,3.0],[-0.13,4.3],[-0.06,5.0],[-0.015,10],[0.0,81.5],[0.015,10],[0.04,0]]
];
const agesex_refLines = [[0,0.51,1.0],[0,0.5,1.0],[0,0.49,1.0],[0,0.5,1.0],[0,0.51,1.0],[0,0.51,0.99],[0,0.5,1.0]];
const agesex_uniform = [1.2,4.0,0.5,2.0,2.0,4.0,6.3];

// ---------------- assemble ----------------
const rowsData = [
 {curves:[age_Bootstrap,age_Normal,age_QF,age_CF], ref:age_refLines, uni:age_uniform, ticks:ageTicks, labels:ageTickLabels},
 {curves:[sex_Bootstrap,sex_Normal,sex_QF,sex_CF], ref:sex_refLines, uni:sex_uniform, ticks:sexTicks, labels:sexTickLabels},
 {curves:[bmi_Bootstrap,bmi_Normal,bmi_QF,bmi_CF], ref:bmi_refLines, uni:bmi_uniform, ticks:bmiTicks, labels:bmiTickLabels},
 {curves:[smoker_Bootstrap,smoker_Normal,smoker_QF,smoker_CF], ref:smoker_refLines, uni:smoker_uniform, ticks:smokerTicks, labels:smokerTickLabels},
 {curves:[region_Bootstrap,region_Normal,region_QF,region_CF], ref:region_refLines, uni:region_uniform, ticks:regionTicks, labels:regionTickLabels},
 {curves:[agesex_Bootstrap,agesex_Normal,agesex_QF,agesex_CF], ref:agesex_refLines, uni:agesex_uniform, ticks:agesexTicks, labels:agesexTickLabels}
];

// layout (pixels)
const colLeft  = [76, 457, 887, 1316, 1746, 2175, 2605];
const colRight = [422, 852, 1281, 1710, 2140, 2569, 2999];
const rowTop    = [40, 451, 896, 1341, 1786, 2229];
const rowBottom = [432, 877, 1321, 1764, 2214, 2605];
const FONT = "Liberation Sans, Arial, sans-serif";

const wrap = document.getElementById("wrap");
function addText(txt, css) {
  const d = document.createElement("div");
  d.className = "t"; d.textContent = txt;
  Object.assign(d.style, css);
  wrap.appendChild(d);
  return d;
}

for (let r = 0; r < 6; r++) {
  for (let c = 0; c < 7; c++) {
    const L = colLeft[c], R = colRight[c], T = rowTop[r], B = rowBottom[r];
    const mL = c === 0 ? 80 : 4, mR = 4, mT = 4, mB = r === 5 ? 44 : 4;
    const rd = rowsData[r];
    const [v0, v1, v2] = rd.ref[c];
    const marks = [
      Plot.ruleY([rd.uni[c]], {stroke: "#c8c8c8", strokeWidth: 2, strokeDasharray: "1.5,2.5"}),
      Plot.ruleX([v1], {stroke: "#c2c2c2", strokeWidth: 1.6, strokeDasharray: "2,4"}),
      Plot.ruleX([v0, v2], {stroke: "#7a7a7a", strokeWidth: 1.6, strokeDasharray: "10,6"})
    ];
    rd.curves.forEach((arr, i) => {
      marks.push(Plot.line(arr[c], {x: d => d[0], y: d => d[1], stroke: methodColors[i], strokeWidth: 2.8, curve: "monotone-x", strokeLinejoin: "round"}));
    });
    marks.push(Plot.ruleX([xDomains[c][0]], {stroke: "#000", strokeWidth: 2.2}));
    marks.push(Plot.ruleY([yDomains[r][0]], {stroke: "#000", strokeWidth: 2.2}));
    const xOpt = {domain: xDomains[c]};
    const yOpt = {domain: yDomains[r]};
    if (c === 0) {
      marks.push(Plot.axisY(rd.ticks, {anchor: "left", tickSize: 13, tickPadding: 0, tickFormat: () => "", strokeWidth: 2, label: null}));
      const lab = rd.ticks.map((t, i) => ({t, s: rd.labels[i]})).filter(d => d.s);
      marks.push(Plot.text(lab, {y: "t", text: "s", frameAnchor: "left", dx: -22, rotate: -90, fontSize: 19.5, textAnchor: "middle", lineAnchor: "middle", fill: "#000"}));
    } else {
      yOpt.axis = null;
    }
    if (r === 5) {
      const m = new Map(xTicks[c].map((t, i) => [t, xTickLabels[c][i]]));
      marks.push(Plot.axisX(xTicks[c], {anchor: "bottom", tickSize: 12, tickPadding: 3, tickFormat: d => m.get(d), fontSize: 20, strokeWidth: 2, label: null}));
    } else {
      xOpt.axis = null;
    }
    const svg = Plot.plot({
      width: (R - L) + mL + mR, height: (B - T) + mT + mB,
      marginLeft: mL, marginRight: mR, marginTop: mT, marginBottom: mB,
      x: xOpt, y: yOpt,
      style: {background: "transparent", overflow: "visible", fontFamily: FONT, color: "#000"},
      marks
    });
    svg.style.position = "absolute";
    svg.style.left = (L - mL) + "px";
    svg.style.top = (T - mT) + "px";
    wrap.appendChild(svg);

    if (r === 5) {
      addText(xLabel, {left: L + "px", width: (R - L) + "px", textAlign: "center", top: "2640px", fontSize: "20px", lineHeight: "24px"});
    }
  }
}

// column titles
sampleSizes.forEach((s, c) => {
  addText(s, {left: colLeft[c] + "px", width: (colRight[c] - colLeft[c]) + "px", textAlign: "center", top: "6px", fontSize: "24px", lineHeight: "28px"});
});

// row labels (rotated)
termLabels.forEach((s, r) => {
  const cy = (rowTop[r] + rowBottom[r]) / 2;
  [[s, 17], ["Density", 29]].forEach(([txt, cx]) => {
    addText(txt, {left: (cx - 250) + "px", width: "500px", textAlign: "center", top: (cy - 12) + "px", height: "24px", lineHeight: "24px", fontSize: "20px", transform: "rotate(-90deg)", transformOrigin: "50% 50%"});
  });
});

// legend
addText("CI method", {left: "3160px", top: "1271px", fontSize: "18px", lineHeight: "24px"});
methods.forEach((m, i) => {
  const y = 1310 + i * 21;
  const ln = document.createElement("div");
  Object.assign(ln.style, {position: "absolute", left: "3145px", top: (y - 1.5) + "px", width: "35px", height: "3px", background: methodColors[i], borderRadius: "1.5px"});
  wrap.appendChild(ln);
  addText(m, {left: "3193px", top: (y - 11) + "px", fontSize: "17.5px", lineHeight: "22px"});
});
</script></body></html>
